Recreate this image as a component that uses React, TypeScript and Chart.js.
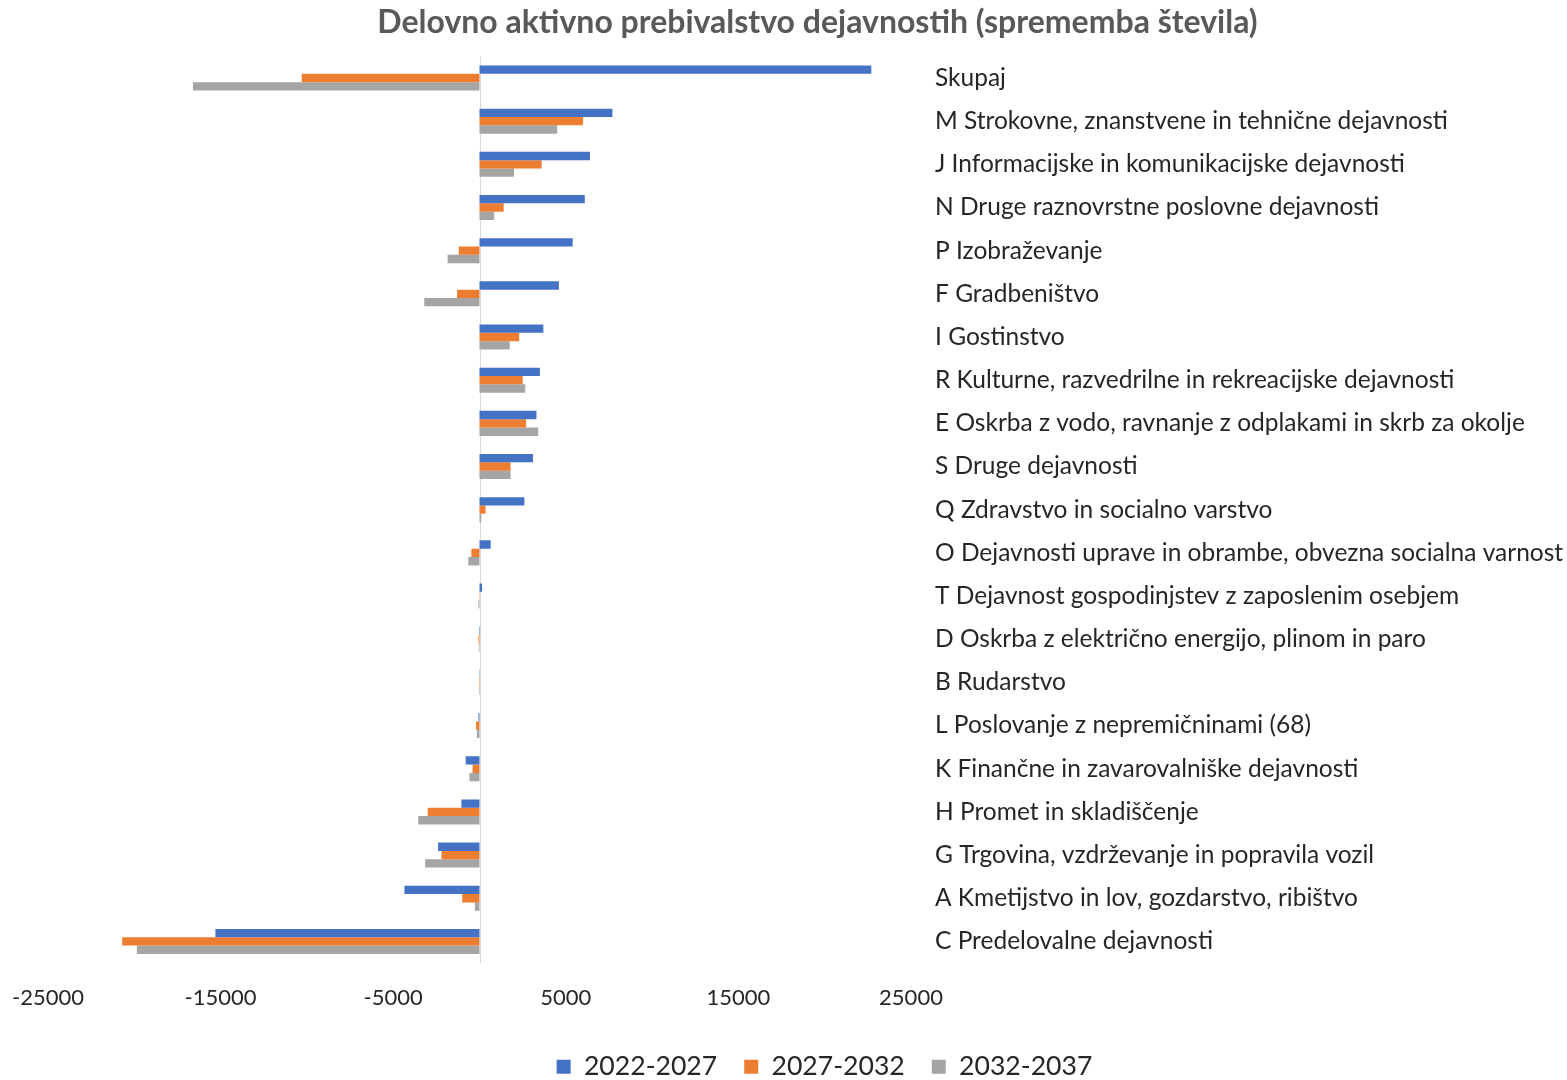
import React, { useEffect, useRef } from "react";
import { Chart, registerables } from "chart.js";

Chart.register(...registerables);

const TITLE = "Delovno aktivno prebivalstvo dejavnostih (sprememba števila)";

const categories = [
  "Skupaj",
  "M Strokovne, znanstvene in tehnične dejavnosti",
  "J Informacijske in komunikacijske dejavnosti",
  "N Druge raznovrstne poslovne dejavnosti",
  "P Izobraževanje",
  "F Gradbeništvo",
  "I Gostinstvo",
  "R Kulturne, razvedrilne in rekreacijske dejavnosti",
  "E Oskrba z vodo, ravnanje z odplakami in skrb za okolje",
  "S Druge dejavnosti",
  "Q Zdravstvo in socialno varstvo",
  "O Dejavnosti uprave in obrambe, obvezna socialna varnost",
  "T Dejavnost gospodinjstev z zaposlenim osebjem",
  "D Oskrba z električno energijo, plinom in paro",
  "B Rudarstvo",
  "L Poslovanje z nepremičninami (68)",
  "K Finančne in zavarovalniške dejavnosti",
  "H Promet in skladiščenje",
  "G Trgovina, vzdrževanje in popravila vozil",
  "A Kmetijstvo in lov, gozdarstvo, ribištvo",
  "C Predelovalne dejavnosti",
];

const seriesNames = ["2022-2027", "2027-2032", "2032-2037"];

const values2022_2027 = [
  22700, 7700, 6400, 6100, 5400, 4600, 3700, 3500, 3300, 3100, 2600, 650, 150, 30, -20, -60, -800, -1050, -2400, -4350, -15300,
];
const values2027_2032 = [
  -10300, 6000, 3600, 1400, -1200, -1300, 2300, 2500, 2700, 1800, 350, -470, 20, -60, -30, -200, -400, -3000, -2200, -1000, -20700,
];
const values2032_2037 = [
  -16600, 4500, 2000, 850, -1850, -3200, 1750, 2650, 3400, 1800, 100, -650, -60, -40, -30, -150, -580, -3550, -3150, -270, -19850,
];

const xTicks = [-25000, -15000, -5000, 5000, 15000, 25000];

const seriesColors = ["#4472C4", "#ED7D31", "#A5A5A5"];

const FONT = "Lato";

const zeroLinePlugin = {
  id: "zeroLine",
  beforeDatasetsDraw(chart: any) {
    const { ctx, chartArea, scales } = chart;
    const x = Math.round(scales.x.getPixelForValue(0)) + 0.5;
    ctx.save();
    ctx.strokeStyle = "#D9D9D9";
    ctx.lineWidth = 1;
    ctx.beginPath();
    ctx.moveTo(x, chartArea.top);
    ctx.lineTo(x, chartArea.bottom);
    ctx.stroke();
    ctx.restore();
  },
};

const boxShiftPlugin = {
  id: "boxShift",
  afterLayout(chart: any) {
    const lg = chart.legend;
    if (lg) {
      lg.left += 17;
      lg.right += 17;
    }
    const tb = chart.titleBlock;
    if (tb) {
      tb.left += 10;
      tb.right += 10;
    }
  },
};

export default function App() {
  const canvasRef = useRef<HTMLCanvasElement | null>(null);

  useEffect(() => {
    if (!canvasRef.current) return;
    const allValues = [values2022_2027, values2027_2032, values2032_2037];
    const chart = new Chart(canvasRef.current, {
      type: "bar",
      data: {
        labels: categories,
        datasets: seriesNames.map((name, i) => ({
          label: name,
          data: allValues[i],
          backgroundColor: seriesColors[i],
          borderWidth: 0,
          barPercentage: 1,
          categoryPercentage: 0.58,
        })),
      },
      options: {
        indexAxis: "y",
        responsive: false,
        animation: false,
        layout: { padding: { left: 48, right: 0, top: 0, bottom: 0 } },
        plugins: {
          title: {
            display: true,
            text: TITLE,
            color: "#595959",
            font: { family: FONT, size: 32, weight: "bold" },
            padding: { top: 3, bottom: 15 },
          },
          legend: {
            position: "bottom",
            labels: {
              color: "#262626",
              font: { family: FONT, size: 26.6 },
              boxWidth: 14,
              boxHeight: 14,
              padding: 27,
            },
          },
          tooltip: { enabled: false },
        },
        scales: {
          x: {
            type: "linear",
            min: -25000,
            max: 25000,
            afterBuildTicks: (scale: any) => {
              scale.ticks = xTicks.map((v) => ({ value: v }));
            },
            afterFit: (scale: any) => {
              scale.height = 63.4;
              scale.paddingLeft = 0;
              scale.paddingRight = 0;
            },
            grid: { display: false, drawTicks: false },
            border: { display: false },
            ticks: {
              color: "#262626",
              font: { family: FONT, size: 22 },
              padding: 22,
              maxRotation: 0,
              autoSkip: false,
              callback: (v: any) => String(v),
            },
          },
          y: {
            type: "category",
            position: "right",
            afterFit: (scale: any) => {
              scale.width = 1567 - 911;
            },
            grid: { display: false, drawTicks: false },
            border: { display: false },
            ticks: {
              color: "#262626",
              font: { family: FONT, size: 24.5 },
              padding: 24,
              autoSkip: false,
            },
          },
        },
      },
      plugins: [zeroLinePlugin, boxShiftPlugin],
    } as any);
    return () => chart.destroy();
  }, []);

  return (
    <div
      style={{
        position: "fixed",
        left: 0,
        top: 0,
        width: 1567,
        height: 1080,
        overflow: "hidden",
        background: "#ffffff",
      }}
    >
      <canvas ref={canvasRef} width={1567} height={1090} />
    </div>
  );
}
